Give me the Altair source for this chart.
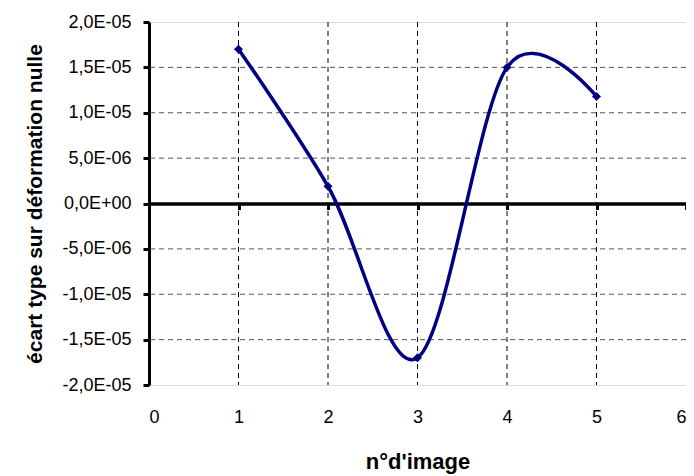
import altair as alt
import pandas as pd

# data
images = [1, 2, 3, 4, 5]
ecart = [1.70e-5, 1.9e-6, -1.70e-5, 1.50e-5, 1.18e-5]

y_ticks = [-2e-5, -1.5e-5, -1e-5, -5e-6, 0, 5e-6, 1e-5, 1.5e-5, 2e-5]
y_labels = ["-2,0E-05", "-1,5E-05", "-1,0E-05", "-5,0E-06", "0,0E+00",
            "5,0E-06", "1,0E-05", "1,5E-05", "2,0E-05"]
x_ticks = [0, 1, 2, 3, 4, 5, 6]
h_grid = [-1.5e-5, -1e-5, -5e-6, 5e-6, 1e-5, 1.5e-5]
v_grid = [1, 2, 3, 4, 5]

df = pd.DataFrame({"img": images, "val": ecart})
hg = pd.DataFrame({"val": h_grid})
vg = pd.DataFrame({"img": v_grid})

expr = ""
for v, l in zip(y_ticks, y_labels):
    expr += f"abs(datum.value - ({v})) < 1e-12 ? '{l}' : "
expr += "''"

FONT = "Liberation Sans"
W, H = 537, 363
xs = alt.Scale(domain=[0, 6], nice=False, zero=False)
ys = alt.Scale(domain=[-2e-5, 2e-5], nice=False, zero=False)

y_axis = alt.Axis(
    values=y_ticks, labelExpr=expr, title="écart type sur déformation nulle",
    domain=True, domainColor="#000", domainWidth=3, ticks=True, tickColor="#000",
    tickWidth=3, tickSize=6, grid=False,
    labelFont=FONT, labelFontSize=18, labelColor="#000", labelPadding=12,
    titleFont=FONT, titleFontSize=21, titleFontWeight="bold", titleColor="#000",
    titlePadding=16)

hgrid = alt.Chart(hg).mark_rule(color="#555555", strokeWidth=1, strokeDash=[5, 4]).encode(
    y=alt.Y("val:Q", scale=ys, axis=y_axis)
)
vgrid = alt.Chart(vg).mark_rule(color="#000000", strokeWidth=1, strokeDash=[5, 4]).encode(
    x=alt.X("img:Q", scale=xs, axis=None)
)

line = alt.Chart(df).mark_line(
    color="#000080", strokeWidth=3.5, interpolate="cardinal", tension=0
).encode(
    x=alt.X("img:Q", scale=xs, axis=alt.Axis(
        values=x_ticks, title="n°d'image", domain=False, ticks=False, grid=False,
        labelFont=FONT, labelFontSize=18, labelColor="#000", labelPadding=23,
        titleFont=FONT, titleFontSize=22, titleFontWeight="bold", titleColor="#000",
        titlePadding=25, orient="bottom")),
    y=alt.Y("val:Q", scale=ys, axis=y_axis),
)

points = alt.Chart(df).mark_point(
    shape="diamond", filled=True, color="#000080", size=80, opacity=1
).encode(
    x=alt.X("img:Q", scale=xs, axis=alt.Axis(
        values=x_ticks, title=None, labels=False, grid=False, orient="bottom",
        offset=-H / 2, domain=True, domainColor="#000", domainWidth=3.5,
        ticks=True, tickColor="#000", tickWidth=3, tickSize=6)),
    y=alt.Y("val:Q", scale=ys, axis=y_axis),
)

chart = alt.layer(hgrid, vgrid, line, points).resolve_axis(x="independent").properties(
    width=W, height=H,
    autosize=alt.AutoSizeParams(type="none"),
    padding={"left": 141, "top": 14, "right": 0, "bottom": 91},
).configure_view(stroke="#808080", strokeWidth=2).configure(background="white")

chart.save("out.html", embed_options={"renderer": "svg", "actions": False})
